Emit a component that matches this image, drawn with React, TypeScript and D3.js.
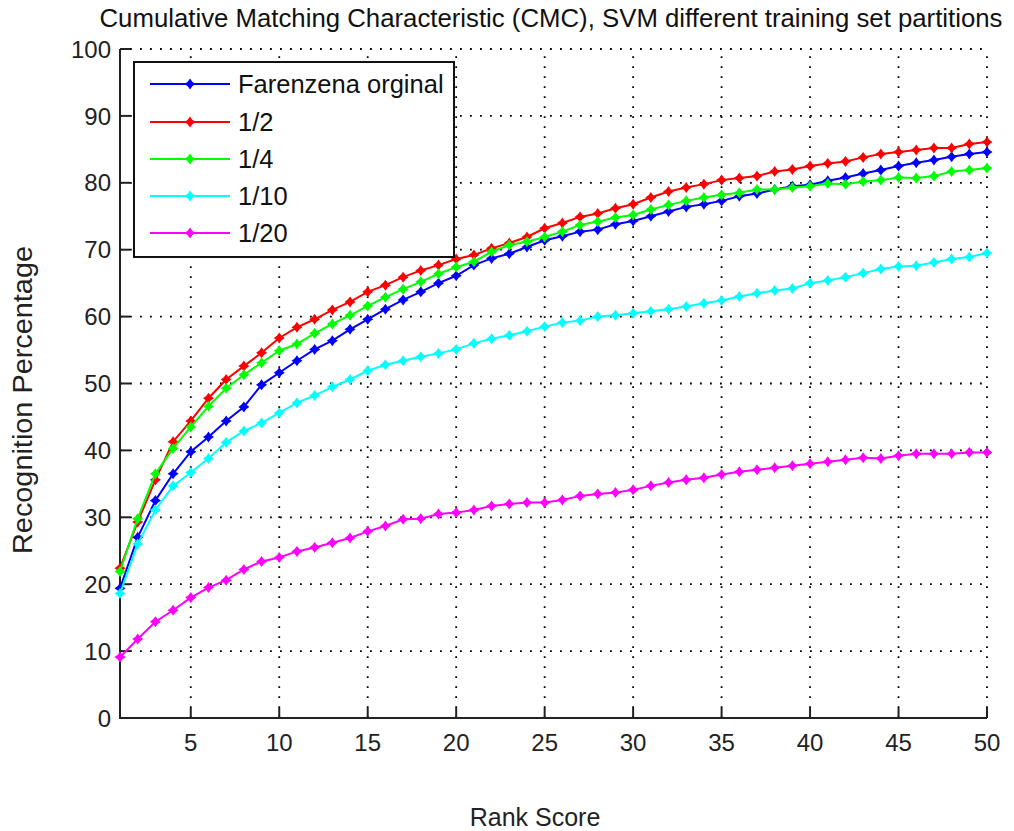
import React from "react";
import * as d3 from "d3";

const ranks = d3.range(1, 51);

const farenzena = [19.4, 27.0, 32.5, 36.5, 39.8, 42.0, 44.4, 46.5, 49.8, 51.6, 53.4, 55.1, 56.4, 58.1, 59.6, 61.1, 62.5, 63.7, 65.0, 66.1, 67.7, 68.7, 69.4, 70.4, 71.4, 72.0, 72.7, 73.0, 73.8, 74.3, 75.0, 75.7, 76.4, 76.8, 77.3, 78.0, 78.4, 79.0, 79.5, 79.7, 80.3, 80.8, 81.4, 81.9, 82.5, 83.0, 83.4, 83.9, 84.3, 84.6];
const half = [22.4, 29.3, 35.6, 41.3, 44.4, 47.8, 50.6, 52.6, 54.6, 56.8, 58.4, 59.6, 61.0, 62.2, 63.7, 64.7, 65.9, 66.9, 67.7, 68.6, 69.2, 70.2, 71.0, 71.9, 73.2, 74.0, 74.9, 75.4, 76.2, 76.8, 77.8, 78.7, 79.3, 79.8, 80.4, 80.7, 81.0, 81.7, 82.0, 82.5, 82.9, 83.2, 83.8, 84.3, 84.6, 84.9, 85.2, 85.2, 85.8, 86.1];
const quarter = [21.9, 29.8, 36.5, 40.3, 43.5, 46.6, 49.3, 51.3, 53.1, 54.9, 55.9, 57.5, 58.9, 60.2, 61.6, 62.9, 64.1, 65.2, 66.4, 67.4, 68.2, 69.7, 70.7, 71.2, 71.9, 72.7, 73.7, 74.2, 74.8, 75.2, 76.0, 76.7, 77.3, 77.8, 78.2, 78.5, 79.0, 79.0, 79.3, 79.5, 79.9, 79.8, 80.2, 80.4, 80.8, 80.7, 81.0, 81.7, 81.9, 82.2];
const tenth = [18.6, 26.0, 31.1, 34.7, 36.7, 38.8, 41.2, 42.9, 44.1, 45.6, 47.1, 48.2, 49.5, 50.6, 51.9, 52.8, 53.4, 54.0, 54.5, 55.1, 56.0, 56.7, 57.2, 57.8, 58.5, 59.1, 59.4, 60.0, 60.2, 60.5, 60.8, 61.1, 61.5, 62.0, 62.4, 63.0, 63.5, 63.9, 64.2, 65.0, 65.4, 65.9, 66.5, 67.1, 67.5, 67.6, 68.1, 68.6, 68.9, 69.5];
const twentieth = [9.1, 11.8, 14.4, 16.1, 18.0, 19.5, 20.6, 22.2, 23.4, 24.0, 24.9, 25.5, 26.2, 26.9, 27.9, 28.7, 29.7, 29.8, 30.5, 30.7, 31.1, 31.7, 32.0, 32.2, 32.2, 32.6, 33.2, 33.5, 33.7, 34.1, 34.7, 35.2, 35.6, 35.9, 36.4, 36.8, 37.1, 37.4, 37.7, 38.0, 38.3, 38.6, 38.9, 38.8, 39.2, 39.5, 39.5, 39.5, 39.7, 39.7];

const seriesNames = ["Farenzena orginal", "1/2", "1/4", "1/10", "1/20"];
const seriesColors = ["#0000ff", "#ff0000", "#00ff00", "#00ffff", "#ff00ff"];
const seriesValues = [farenzena, half, quarter, tenth, twentieth];

const xTicks = [5, 10, 15, 20, 25, 30, 35, 40, 45, 50];
const yTicks = [0, 10, 20, 30, 40, 50, 60, 70, 80, 90, 100];

const title = "Cumulative Matching Characteristic (CMC), SVM different training set partitions";
const xLabel = "Rank Score";
const yLabel = "Recognition Percentage";

const W = 1014;
const H = 831;
const left = 120;
const right = 987;
const top = 49;
const bottom = 718;

const FONT = "'Liberation Sans', Arial, sans-serif";

const markerPath = "M0,-5.5 L2.3,-2.3 L5.5,0 L2.3,2.3 L0,5.5 L-2.3,2.3 L-5.5,0 L-2.3,-2.3 Z";

export default function App() {
  const x = d3.scaleLinear().domain([1, 50]).range([left, right]);
  const y = d3.scaleLinear().domain([0, 100]).range([bottom, top]);
  const line = d3
    .line<number>()
    .x((_, i) => x(ranks[i]))
    .y((d) => y(d));

  const legendX = 134;
  const legendY = 62;
  const legendW = 320;
  const legendH = 195;
  const legendRows = [84, 122, 159, 196, 233];

  return (
    <svg
      width={W}
      height={H}
      style={{ position: "absolute", left: 0, top: 0, background: "#fff" }}
      fontFamily={FONT}
    >
      <rect x={0} y={0} width={W} height={H} fill="#fff" />
      {/* grid */}
      <g stroke="#000" strokeWidth={1.8} strokeDasharray="1.8 8.2">
        {xTicks.map((t) => (
          <line key={"gx" + t} x1={x(t)} x2={x(t)} y1={bottom} y2={top} />
        ))}
        {yTicks.slice(1).map((t) => (
          <line key={"gy" + t} x1={left} x2={right} y1={y(t)} y2={y(t)} />
        ))}
      </g>
      {/* axes */}
      <g stroke="#222" strokeWidth={2} fill="none">
        <line x1={left} x2={left} y1={top} y2={bottom + 1} />
        <line x1={left - 1} x2={right} y1={bottom} y2={bottom} />
        {yTicks.map((t) => (
          <line key={"ty" + t} x1={left} x2={left + 10} y1={y(t)} y2={y(t)} />
        ))}
        {xTicks.map((t) => (
          <line key={"tx" + t} x1={x(t)} x2={x(t)} y1={bottom} y2={bottom - 10} />
        ))}
      </g>
      {/* tick labels */}
      <g fontSize={24} fill="#222">
        {yTicks.map((t) => (
          <text key={"ly" + t} x={left - 9} y={y(t)} dy="0.36em" textAnchor="end">
            {t}
          </text>
        ))}
        {xTicks.map((t) => (
          <text key={"lx" + t} x={x(t)} y={751} textAnchor="middle">
            {t}
          </text>
        ))}
      </g>
      {/* series */}
      {seriesValues.map((vals, si) => (
        <g key={"s" + si}>
          <path d={line(vals) || ""} fill="none" stroke={seriesColors[si]} strokeWidth={2} />
          {vals.map((v, i) => (
            <path
              key={i}
              d={markerPath}
              transform={`translate(${x(ranks[i])},${y(v)})`}
              fill={seriesColors[si]}
            />
          ))}
        </g>
      ))}
      {/* legend */}
      <rect x={legendX} y={legendY} width={legendW} height={legendH} fill="#fff" stroke="#111" strokeWidth={2} />
      {seriesNames.map((name, i) => (
        <g key={"lg" + i}>
          <line x1={150} x2={230} y1={legendRows[i]} y2={legendRows[i]} stroke={seriesColors[i]} strokeWidth={2} />
          <path d={markerPath} transform={`translate(190,${legendRows[i]})`} fill={seriesColors[i]} />
          <text x={238} y={legendRows[i]} dy="0.36em" fontSize={25.5} fill="#111">
            {name}
          </text>
        </g>
      ))}
      {/* labels */}
      <text x={551} y={27} textAnchor="middle" fontSize={25} fill="#111" textLength={903} lengthAdjust="spacingAndGlyphs">
        {title}
      </text>
      <text x={535} y={826} textAnchor="middle" fontSize={25} fill="#222">
        {xLabel}
      </text>
      <text
        transform={`translate(32,400) rotate(-90)`}
        textAnchor="middle"
        fontSize={27}
        fill="#222"
        textLength={308}
        lengthAdjust="spacingAndGlyphs"
      >
        {yLabel}
      </text>
    </svg>
  );
}
